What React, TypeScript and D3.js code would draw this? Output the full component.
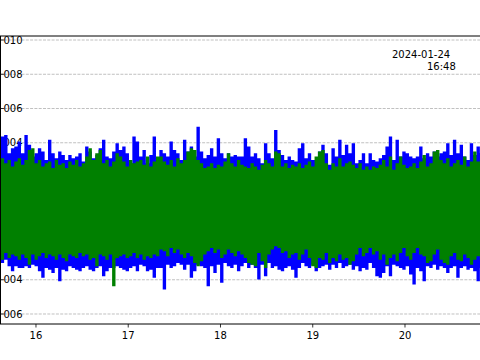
import React from 'react';
import * as d3 from 'd3';

const W = 480;
const H = 360;

// hours on the x axis, values on the y axis
const xTicks = [16, 17, 18, 19, 20];
const yTicks = [0.01, 0.008, 0.006, 0.004, 0.002, 0, -0.002, -0.004, -0.006];
const offsetLines = ['2024-01-24', '16:48'];

// samples are evenly spaced in time between these hours
const sampleStartHour = 15.6;
const sampleEndHour = 20.83;
const UNIT = 1e-3; // envelope values below are in thousandths

// blue trace, upper / lower envelope
const blueHigh = [
  3.58, 4.36, 4.46, 3.39, 3.68, 3.78, 4.07, 3.39, 4.46, 3.88, 3.2, 3.39, 3.68, 3.49, 3.0, 4.17,
  3.39, 3.1, 3.49, 3.29, 3.0, 3.29, 3.1, 3.2, 3.39, 2.91, 3.78, 3.49, 3.1, 3.29, 3.68, 4.17,
  3.2, 3.1, 3.49, 3.97, 3.58, 3.78, 3.39, 2.81, 4.36, 4.07, 3.2, 3.58, 2.81, 3.29, 4.36, 3.0,
  3.58, 3.39, 3.2, 4.07, 3.58, 3.39, 3.0, 4.17, 3.49, 3.78, 3.2, 4.94, 3.49, 3.1, 3.29, 3.68,
  3.2, 4.26, 3.39, 3.1, 3.39, 3.2, 3.29, 3.2, 3.2, 4.26, 3.78, 3.2, 3.39, 3.1, 2.81, 3.97,
  3.39, 3.1, 4.75, 3.58, 3.29, 3.0, 3.2, 3.0, 2.91, 3.68, 3.97, 3.1, 3.39, 3.0, 3.0, 3.49,
  3.88, 3.39, 2.71, 3.68, 3.2, 4.17, 3.29, 3.88, 3.39, 3.97, 2.81, 3.0, 3.39, 2.81, 3.39, 3.0,
  2.91, 3.1, 3.29, 3.78, 4.36, 3.0, 4.17, 3.2, 3.49, 3.39, 3.2, 3.1, 3.2, 3.78, 3.1, 3.39,
  3.2, 3.49, 3.2, 3.39, 3.49, 3.97, 3.29, 4.17, 3.39, 3.88, 3.2, 3.0, 3.97, 3.29, 3.78, 3.39,
];
const blueLow = [
  -3.31, -3.02, -2.83, -3.21, -3.5, -3.21, -3.31, -3.31, -3.21, -3.31, -3.12, -3.21, -3.5, -3.89, -3.31, -3.41,
  -3.6, -3.31, -4.09, -3.41, -3.5, -3.21, -3.31, -3.41, -3.5, -3.31, -3.21, -3.41, -3.5, -3.31, -3.21, -3.8,
  -3.5, -3.31, -3.31, -3.21, -3.31, -3.41, -3.5, -3.31, -3.21, -3.5, -3.12, -3.21, -3.5, -3.41, -3.89, -3.31,
  -3.31, -4.57, -3.12, -3.31, -3.21, -3.02, -3.12, -3.41, -3.12, -3.89, -3.5, -3.12, -3.21, -3.31, -4.38, -3.21,
  -3.6, -3.12, -4.18, -3.02, -3.21, -3.31, -3.12, -3.5, -3.21, -3.02, -3.31, -3.12, -3.31, -3.99, -3.12, -3.8,
  -3.02, -3.31, -3.21, -3.41, -3.5, -3.31, -3.21, -3.41, -3.89, -3.31, -3.02, -3.21, -3.31, -3.12, -3.5, -3.31,
  -3.21, -3.12, -3.41, -3.12, -3.31, -3.02, -3.31, -3.21, -3.12, -3.41, -3.21, -3.5, -3.31, -3.41, -3.02, -3.31,
  -3.8, -3.89, -3.6, -3.21, -3.8, -3.12, -3.21, -3.31, -3.41, -3.21, -3.7, -4.28, -3.31, -3.5, -4.09, -3.21,
  -3.31, -3.12, -3.41, -3.21, -3.31, -3.6, -3.31, -3.21, -3.89, -3.31, -3.21, -3.41, -3.31, -3.5, -4.09, -3.31,
];

// green trace, upper / lower envelope
const greenHigh = [
  3.39, 3.1, 2.81, 3.0, 2.61, 2.91, 3.1, 2.71, 3.0, 3.58, 3.68, 2.81, 3.0, 2.61, 2.81, 2.91,
  2.52, 3.0, 2.71, 2.81, 2.52, 2.91, 2.71, 3.0, 2.61, 2.81, 3.2, 3.68, 3.0, 3.39, 3.58, 2.81,
  3.0, 2.61, 2.91, 3.39, 3.2, 2.91, 2.61, 3.0, 2.81, 2.91, 3.0, 2.71, 3.2, 2.61, 2.91, 3.2,
  3.2, 2.91, 2.71, 3.0, 2.61, 3.1, 2.81, 3.0, 3.49, 3.68, 3.58, 3.0, 2.81, 2.52, 2.61, 2.81,
  2.52, 2.71, 2.61, 2.91, 3.39, 2.81, 2.61, 3.0, 2.71, 2.61, 2.52, 2.81, 2.61, 2.42, 2.71, 3.0,
  2.81, 2.61, 3.49, 3.39, 2.61, 2.81, 2.52, 2.71, 2.61, 2.81, 2.52, 2.71, 2.91, 2.61, 3.2, 3.49,
  3.58, 2.81, 2.42, 2.81, 2.61, 3.1, 2.61, 2.81, 2.91, 2.71, 2.52, 2.81, 2.42, 2.61, 2.42, 2.61,
  2.52, 2.71, 3.0, 2.61, 3.2, 2.42, 2.81, 3.2, 2.71, 2.52, 2.61, 2.81, 2.52, 2.91, 3.29, 2.61,
  2.81, 3.49, 3.58, 3.0, 2.81, 3.1, 2.61, 2.81, 3.0, 2.71, 3.2, 2.61, 2.91, 3.49, 2.91, 3.0,
];
const greenLow = [
  -2.53, -2.83, -2.44, -2.73, -2.53, -2.63, -2.83, -2.53, -2.73, -3.12, -2.53, -2.83, -2.63, -2.44, -2.73, -2.53,
  -2.63, -2.83, -2.53, -2.73, -2.92, -2.53, -2.63, -2.73, -2.44, -2.63, -2.53, -2.83, -2.73, -3.21, -2.53, -2.63,
  -2.83, -2.53, -4.38, -2.73, -2.63, -2.53, -2.73, -2.63, -2.44, -2.73, -2.53, -2.83, -2.63, -2.73, -2.53, -2.63,
  -2.24, -2.34, -2.63, -2.15, -2.44, -2.24, -2.53, -2.73, -2.44, -2.63, -3.02, -3.21, -2.92, -2.53, -2.34, -2.15,
  -2.44, -2.24, -2.73, -2.53, -2.24, -2.44, -2.63, -2.34, -2.53, -2.73, -3.02, -3.12, -3.21, -2.44, -2.92, -3.31,
  -2.53, -2.24, -2.05, -2.15, -2.44, -2.34, -2.73, -2.53, -2.44, -2.83, -2.53, -2.24, -2.73, -3.21, -3.31, -2.73,
  -2.83, -2.44, -3.02, -2.73, -2.92, -2.53, -2.83, -2.73, -3.12, -2.92, -2.53, -2.15, -2.63, -2.44, -2.15, -2.53,
  -2.34, -2.83, -2.53, -3.12, -2.73, -2.53, -2.92, -2.44, -2.15, -2.63, -2.83, -2.44, -2.15, -2.53, -2.63, -3.02,
  -2.92, -2.53, -2.24, -2.83, -3.02, -3.12, -2.63, -2.44, -2.83, -2.92, -2.53, -2.73, -3.12, -2.83, -2.63, -2.92,
];

const plot = {left: 0, right: 480, top: 36, bottom: 324};
const font = "'DejaVu Sans', sans-serif";

export default function App() {
  const x = d3.scaleLinear().domain([15.61, 20.813]).range([plot.left, plot.right]);
  const y = d3.scaleLinear().domain([-0.006584, 0.010234]).range([plot.bottom, plot.top]);

  const n = blueHigh.length;
  const hourAt = (i: number) => sampleStartHour + (i * (sampleEndHour - sampleStartHour)) / (n - 1);

  const band = (hi: number[], lo: number[]) =>
    d3.area<number>()
      .x((_, i) => x(hourAt(i)))
      .y0((_, i) => y(lo[i] * UNIT))
      .y1((_, i) => y(hi[i] * UNIT))
      .curve(d3.curveStep)(hi.map((_, i) => i)) || '';

  const fmt = d3.format('.3f');
  const shownY = yTicks.filter((t) => Math.abs(t) > 0.003);

  return (
    <svg width={W} height={H} style={{position: 'absolute', left: 0, top: 0, background: '#fff'}}>
      <defs>
        <clipPath id="plotclip">
          <rect x={plot.left} y={plot.top} width={plot.right - plot.left} height={plot.bottom - plot.top}/>
        </clipPath>
        <clipPath id="labelclip">
          <rect x={3} y={0} width={W} height={H}/>
        </clipPath>
      </defs>

      {yTicks.map((t) => (
        <line key={'g' + t} x1={plot.left} x2={plot.right} y1={y(t)} y2={y(t)}
              stroke="#b0b0b0" strokeWidth={0.8} strokeDasharray="3,1.3"/>
      ))}

      <g fontFamily={font} fontSize={10} fill="#000">
        {shownY.map((t) => (
          <g key={'yl' + t}>
            <line x1={0} x2={4} y1={y(t)} y2={y(t)} stroke="#000" strokeWidth={0.8}/>
            <text x={22.5} y={y(t)} dy="0.36em" textAnchor="end" clipPath="url(#labelclip)">{fmt(t)}</text>
          </g>
        ))}
      </g>

      <g clipPath="url(#plotclip)">
        <path d={band(blueHigh, blueLow)} fill="#0000ff"/>
        <path d={band(greenHigh, greenLow)} fill="#008000"/>
      </g>

      <line x1={0} x2={W} y1={plot.top} y2={plot.top} stroke="#000" strokeWidth={1}/>
      <line x1={0} x2={W} y1={plot.bottom} y2={plot.bottom} stroke="#000" strokeWidth={1}/>
      <line x1={0.5} x2={0.5} y1={plot.top} y2={plot.bottom} stroke="#000" strokeWidth={1}/>

      <g fontFamily={font} fontSize={10} fill="#000">
        {xTicks.map((t) => (
          <g key={'x' + t}>
            <line x1={x(t)} x2={x(t)} y1={plot.bottom} y2={plot.bottom + 3.5} stroke="#000" strokeWidth={0.8}/>
            <text x={x(t)} y={339} textAnchor="middle">{t}</text>
          </g>
        ))}
        <text x={392} y={58}>{offsetLines[0]}</text>
        <text x={427} y={70}>{offsetLines[1]}</text>
      </g>
    </svg>
  );
}
